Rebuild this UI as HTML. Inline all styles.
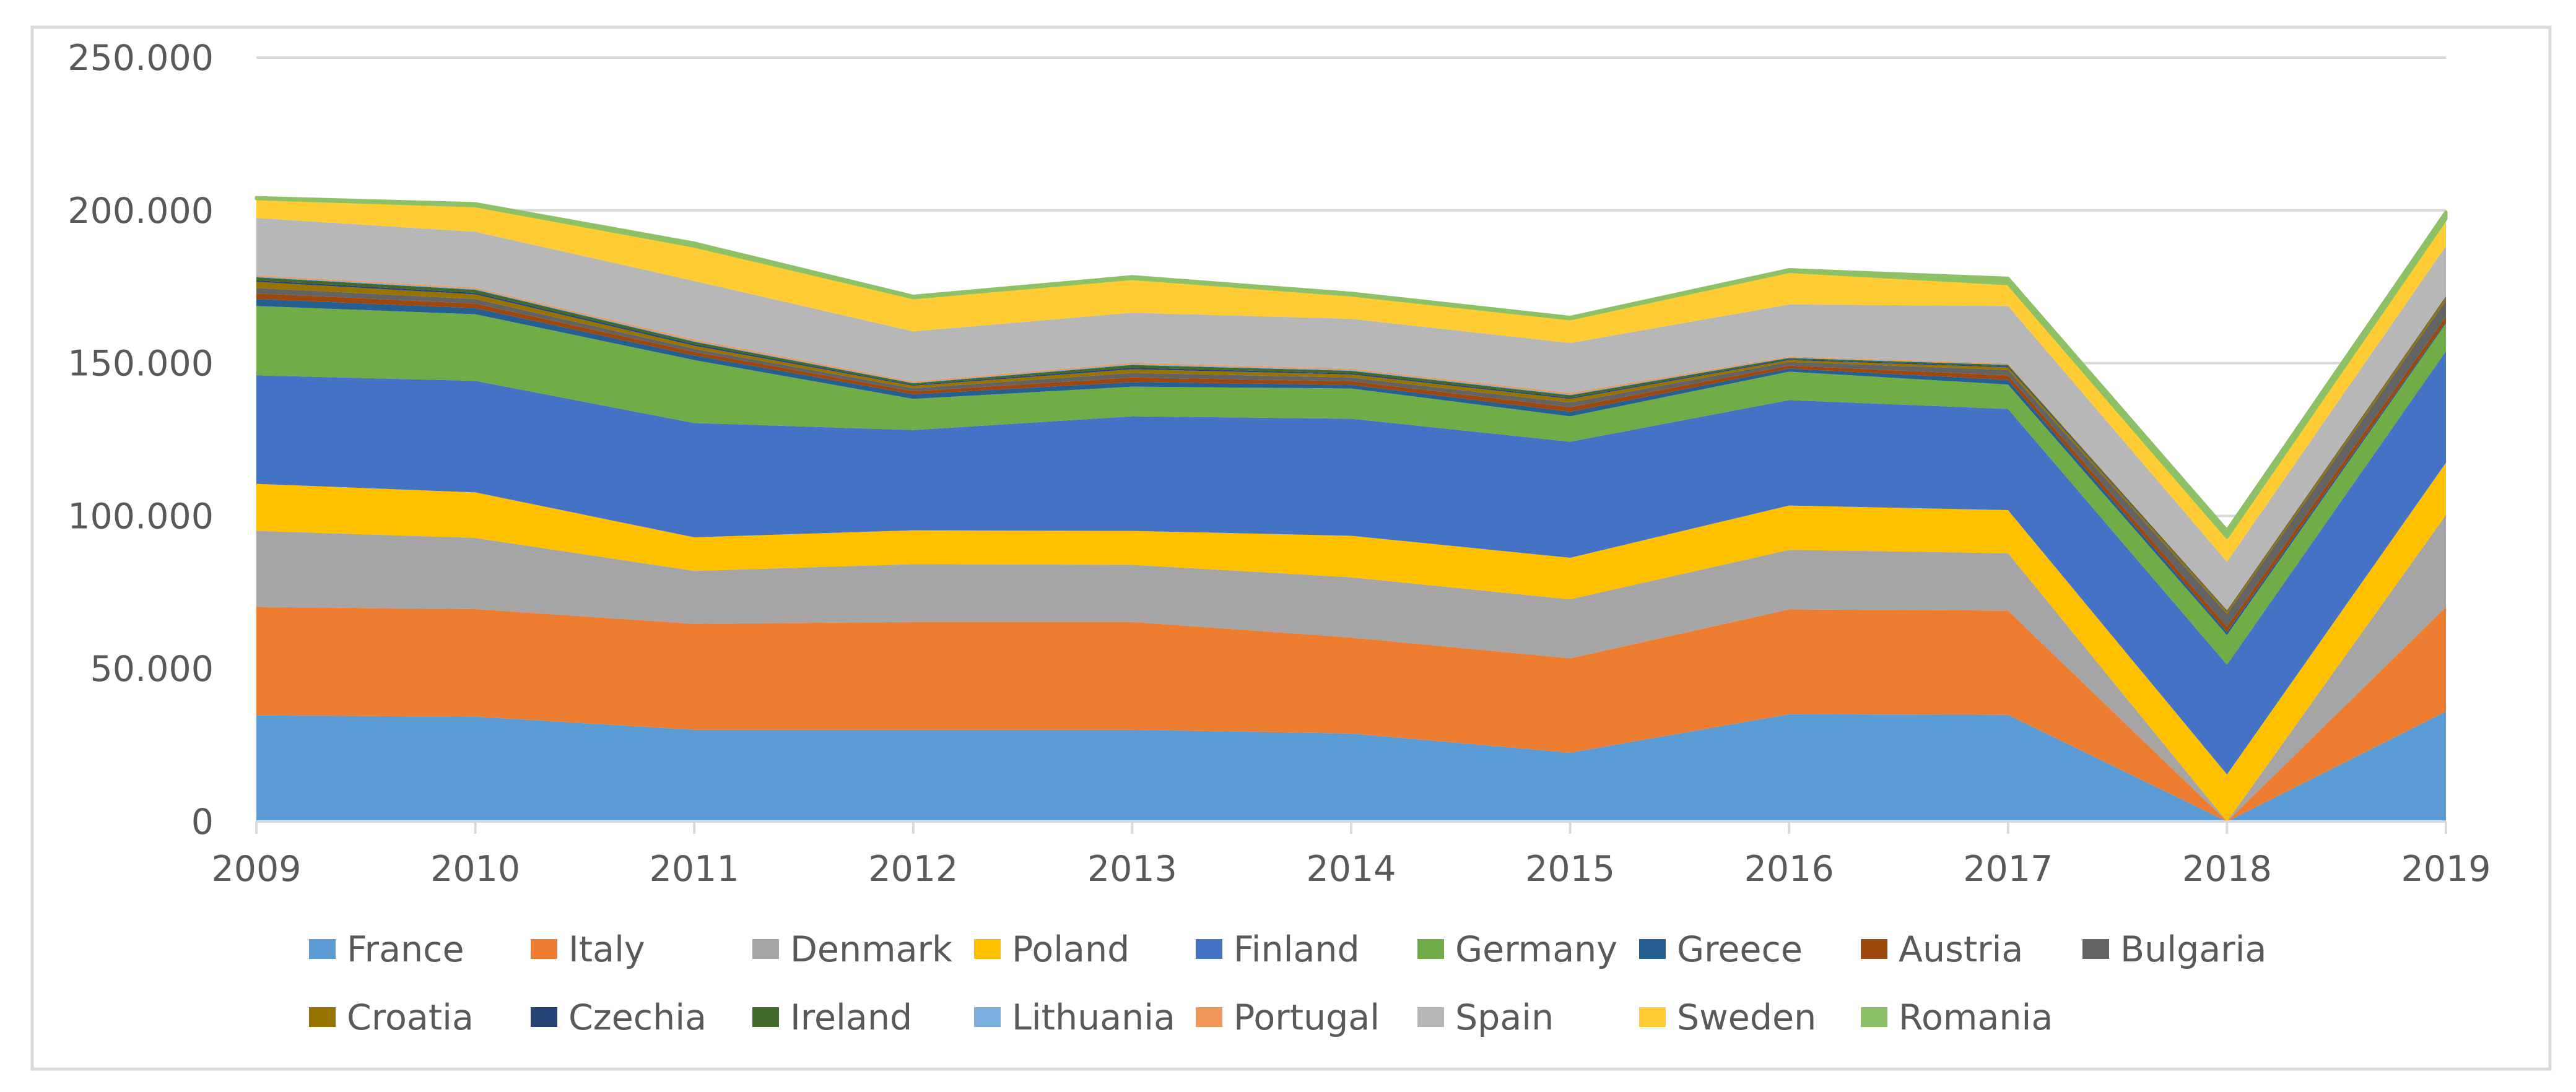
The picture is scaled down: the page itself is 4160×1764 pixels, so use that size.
<!DOCTYPE html>
<html><head><meta charset="utf-8"><style>
html,body{margin:0;padding:0;background:#fff;}
svg{display:block;font-family:"DejaVu Sans","Liberation Sans",sans-serif;}
</style></head><body>
<svg id="chart" width="4160" height="1764" viewBox="0 0 4160 1764" xmlns="http://www.w3.org/2000/svg">
<rect x="52" y="44" width="4066" height="1683" fill="#fff" stroke="#d9d9d9" stroke-width="5"/>
<g id="grid"></g><g id="areas"></g><g id="axes"></g><g id="legend"></g>
</svg>
<script>
const years = [2009,2010,2011,2012,2013,2014,2015,2016,2017,2018,2019];
const seriesNames = ["France","Italy","Denmark","Poland","Finland","Germany","Greece","Austria","Bulgaria","Croatia","Czechia","Ireland","Lithuania","Portugal","Spain","Sweden","Romania"];
const seriesColors = ["#5B9BD5","#ED7D31","#A5A5A5","#FFC000","#4472C4","#70AD47","#255E91","#9E480E","#636363","#997300","#264478","#43682B","#7CAFDD","#F1975A","#B7B7B7","#FFCD33","#8CC168"];
const france   = [34.7,34.3,30.0,30.0,30.0,28.8,22.5,35.1,34.9,0,36.0];
const italy    = [35.5,35.2,34.7,35.3,35.3,31.4,30.9,34.3,34.1,0,34.2];
const denmark  = [24.9,23.3,17.3,18.9,18.7,19.7,19.3,19.5,18.8,0,30.1];
const poland   = [15.4,14.9,11.0,11.1,11.1,13.6,13.6,14.5,14.1,15.4,17.1];
const finland  = [35.5,36.5,37.4,32.8,37.5,38.3,38.0,34.5,33.1,35.9,36.5];
const germany  = [22.7,21.8,20.6,10.2,9.7,9.9,8.3,9.3,8.0,9.7,9.1];
const greece   = [2.3,2.0,1.5,1.5,1.5,1.2,1.5,1.0,1.5,1.0,0.5];
const austria  = [1.8,1.5,1.2,1.0,1.5,1.2,1.5,1.0,1.5,1.8,1.8];
const bulgaria = [1.8,1.5,1.0,1.0,1.5,1.2,1.5,1.2,1.8,4.1,5.2];
const croatia  = [2.0,1.5,1.0,0.8,1.2,1.0,1.2,0.6,0.8,0.8,1.0];
const czechia  = [0.5,0.5,0.5,0.3,0.5,0.4,0.4,0.3,0.3,0.2,0.2];
const ireland  = [1.0,1.0,0.8,0.5,0.9,0.8,0.8,0.4,0.5,0.2,0.2];
const lithuania= [0.3,0.3,0.3,0.2,0.3,0.3,0.3,0.2,0.2,0.1,0.1];
const portugal = [0.4,0.4,0.5,0.4,0.4,0.4,0.5,0.3,0.3,0.2,0.2];
const spain    = [18.7,18.3,19.1,16.4,16.4,16.3,16.3,17.0,18.8,15.6,16.1];
const sweden   = [6.3,8.5,11.4,11.0,11.2,7.8,7.9,10.8,7.3,8.0,8.9];
const romania  = [0.4,0.7,1.0,0.5,0.6,0.6,0.5,0.6,1.8,2.3,2.3];
const seriesValues = [france,italy,denmark,poland,finland,germany,greece,austria,bulgaria,croatia,czechia,ireland,lithuania,portugal,spain,sweden,romania];
const yTicks = [0,50,100,150,200,250];
const yTickLabels = ["0","50.000","100.000","150.000","200.000","250.000"];

const NS="http://www.w3.org/2000/svg";
const X0=414, X1=3950, Y0=1327, Y1=93, YMAX=250;
const xs = i => X0 + (X1-X0)*i/(years.length-1);
const ys = v => Y0 - (Y0-Y1)*v/YMAX;
function mk(tag, attrs, parent){const e=document.createElementNS(NS,tag);for(const k in attrs)e.setAttribute(k,attrs[k]);parent.appendChild(e);return e;}
const grid=document.getElementById('grid'), areas=document.getElementById('areas'), axes=document.getElementById('axes'), legend=document.getElementById('legend');

yTicks.forEach((t,i)=>{
  if(t>0){const l=mk('line',{x1:X0,x2:X1,y1:ys(t),y2:ys(t),stroke:'#d9d9d9','stroke-width':4},grid);
    
    }
  const tx=mk('text',{x:345,y:ys(t)+20,'text-anchor':'end','font-size':57,fill:'#595959'},axes);
  tx.textContent=yTickLabels[i];
  
  
});

let cum = years.map(()=>0);
seriesValues.forEach((vals,s)=>{
  const lower=cum.slice(); const upper=cum.map((c,i)=>c+vals[i]);
  let d='';
  upper.forEach((v,i)=>{d+=(i?'L':'M')+xs(i)+','+ys(v)+' ';});
  for(let i=years.length-1;i>=0;i--) d+='L'+xs(i)+','+ys(lower[i])+' ';
  d+='Z';
  const p=mk('path',{d:d,fill:seriesColors[s]},areas);
  if(s===seriesNames.length-1){p.setAttribute('stroke',seriesColors[s]);p.setAttribute('stroke-width',5);p.setAttribute('stroke-linejoin','round');}
  
  
  cum=upper;
});

const ax=mk('line',{x1:X0,x2:X1,y1:Y0,y2:Y0,stroke:'#d9d9d9','stroke-width':4},axes);


years.forEach((yr,i)=>{
  const tk=mk('line',{x1:xs(i),x2:xs(i),y1:Y0,y2:Y0+20,stroke:'#d9d9d9','stroke-width':4},axes);
  
  
  const tx=mk('text',{x:xs(i),y:1423,'text-anchor':'middle','font-size':57,fill:'#595959'},axes);
  tx.textContent=yr;
  
  
});

seriesNames.forEach((n,i)=>{
  const row=i<9?0:1, col=i<9?i:i-9;
  const mx=499+358*col, cy=row?1643:1533;
  const g=mk('g',{},legend);
  
  
  const r=mk('rect',{x:mx,y:cy-16,width:43,height:32,fill:seriesColors[i]},g);
  
  
  const t=mk('text',{x:mx+61,y:cy+20,'font-size':57,fill:'#595959'},g);
  t.textContent=n;
  
  
});
</script>
</body></html>
